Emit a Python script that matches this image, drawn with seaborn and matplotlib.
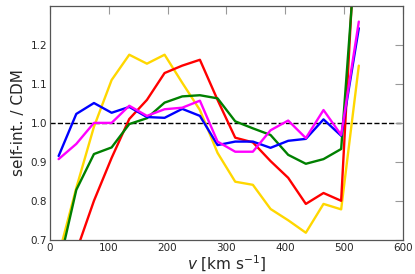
import numpy as np
import pandas as pd
import matplotlib
matplotlib.use("Agg")
import matplotlib.pyplot as plt
import seaborn as sns

# bin centres [km/s]
v = [15, 45, 75, 105, 135, 165, 195, 225, 255, 285, 315, 345, 375, 405, 435, 465, 495, 525]

blue = [0.915, 1.023, 1.051, 1.026, 1.041, 1.015, 1.013, 1.036, 1.018, 0.943,
        0.952, 0.952, 0.936, 0.954, 0.959, 1.009, 0.967, 1.243]
magenta = [0.907, 0.946, 1.0, 1.0, 1.044, 1.018, 1.035, 1.039, 1.057, 0.952,
           0.926, 0.926, 0.981, 1.006, 0.961, 1.033, 0.969, 1.26]
green = [0.63, 0.828, 0.92, 0.937, 0.997, 1.012, 1.052, 1.068, 1.071, 1.063,
         1.004, 0.986, 0.969, 0.918, 0.895, 0.907, 0.933, 1.55]
red = [0.58, 0.67, 0.80, 0.91, 1.010, 1.059, 1.128, 1.147, 1.162, 1.059,
       0.962, 0.950, 0.902, 0.859, 0.792, 0.82, 0.80, 1.65]
yellow = [0.66, 0.833, 0.99, 1.11, 1.175, 1.152, 1.175, 1.103, 1.033, 0.923,
          0.849, 0.841, 0.779, 0.75, 0.718, 0.792, 0.778, 1.147]

series = {"yellow": yellow, "red": red, "green": green, "blue": blue, "magenta": magenta}
colours = {"yellow": "#ffd700", "red": "#ff0000", "green": "#008000",
           "blue": "#0000ff", "magenta": "#ff00ff"}

df = pd.concat([pd.DataFrame({"v": v, "ratio": vals, "run": name})
                for name, vals in series.items()], ignore_index=True)

sns.set_style("white")
plt.rcParams["font.family"] = ["DejaVu Sans"]

fig = plt.figure(figsize=(4.15, 2.74), dpi=100)
ax = fig.add_axes([0.12, 0.125, 0.851, 0.853])

sns.lineplot(data=df, x="v", y="ratio", hue="run", palette=colours,
             linewidth=1.7, legend=False, ax=ax, sort=False)
ax.axhline(1.0, color="black", ls="--", lw=1.0, zorder=0)

ax.set_xlim(0, 600)
ax.set_ylim(0.7, 1.3)
ax.set_xticks([0, 100, 200, 300, 400, 500, 600])
ax.set_yticks([0.7, 0.8, 0.9, 1.0, 1.1, 1.2])
ax.tick_params(direction="in", top=True, right=True, length=6, width=0.8,
               color="#999999", labelsize=7.5, pad=2)
for s in ax.spines.values():
    s.set_color("#555555")
    s.set_linewidth(0.9)

ax.set_xlabel(r"$v$ [km s$^{-1}$]", fontsize=11, labelpad=1)
ax.set_ylabel("self-int. / CDM", fontsize=11, labelpad=3)

fig.savefig("out.png", dpi=100)
